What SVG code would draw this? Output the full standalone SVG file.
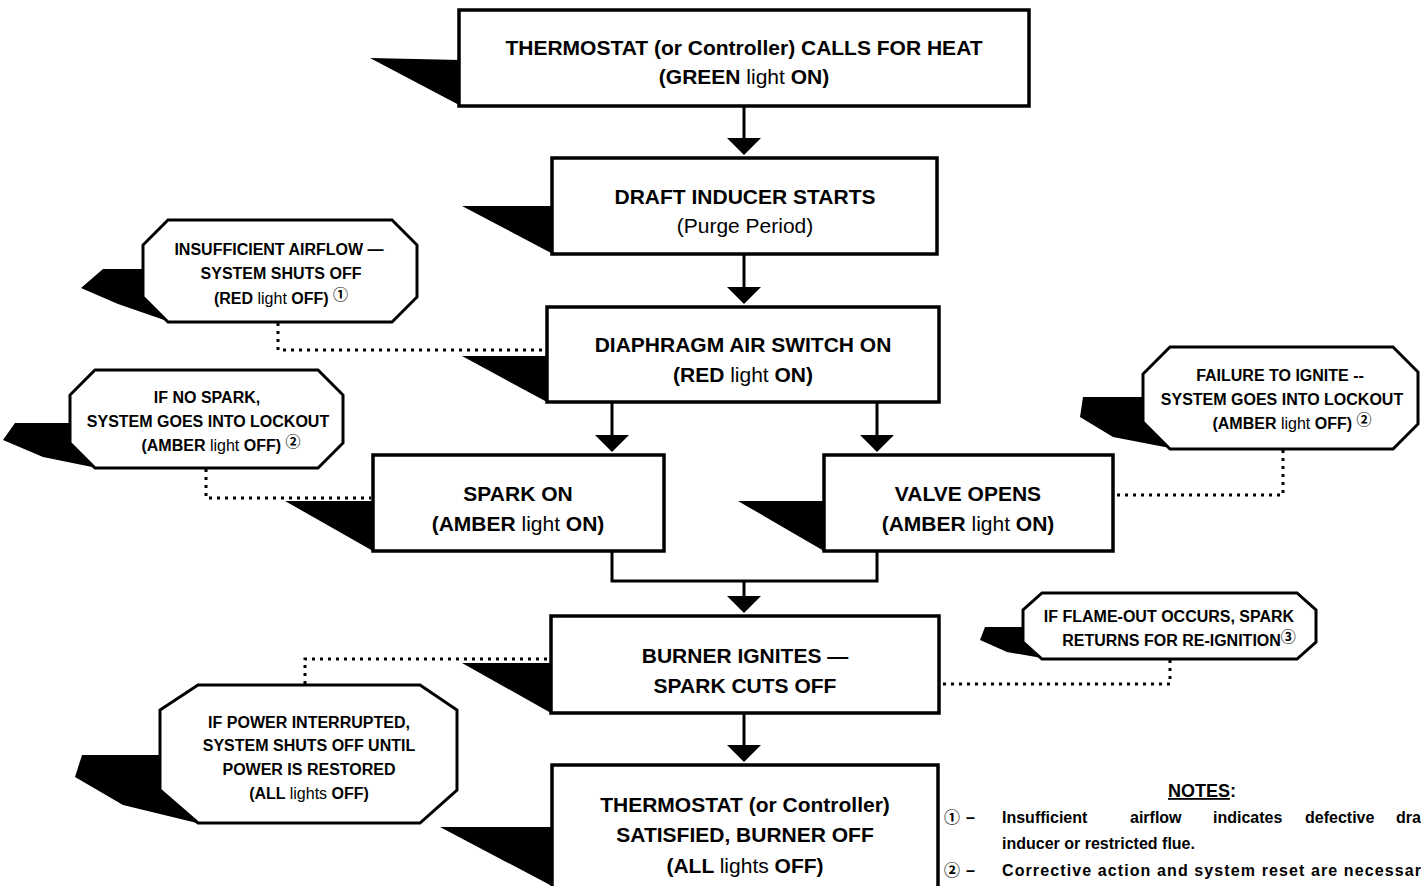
<svg xmlns="http://www.w3.org/2000/svg" width="1421" height="886" viewBox="0 0 1421 886">
<style>
.box{fill:#fff;stroke:#000;stroke-width:3.5}
.oct{fill:#fff;stroke:#000;stroke-width:3}
.sh{fill:#000;stroke:none}
.ln{fill:none;stroke:#000;stroke-width:3}
.dot{fill:none;stroke:#000;stroke-width:3;stroke-dasharray:3 5}
.ah{fill:#000}
text{font-family:"Liberation Sans","Noto Sans CJK JP",sans-serif;fill:#000;text-anchor:middle}
.t{font-size:21px;font-weight:bold}
.s{font-size:16px;font-weight:bold}
.n{font-weight:normal}
.c{font-size:15px;font-weight:bold}
.note{font-size:16px;font-weight:bold;text-anchor:start}
</style>
<g id="connectors">
<line class="ln" x1="744" y1="106" x2="744" y2="140"/>
<polygon class="ah" points="727,138 761,138 744,155"/>
<line class="ln" x1="744" y1="254" x2="744" y2="289"/>
<polygon class="ah" points="727,287 761,287 744,304"/>
<line class="ln" x1="612" y1="402" x2="612" y2="437"/>
<polygon class="ah" points="595,435 629,435 612,452"/>
<line class="ln" x1="877" y1="402" x2="877" y2="437"/>
<polygon class="ah" points="860,435 894,435 877,452"/>
<polyline class="ln" points="612,551 612,581 877,581 877,551"/>
<line class="ln" x1="744" y1="581" x2="744" y2="598"/>
<polygon class="ah" points="727,596 761,596 744,613"/>
<line class="ln" x1="744" y1="713" x2="744" y2="747"/>
<polygon class="ah" points="727,745 761,745 744,762"/>
<polyline class="dot" points="278,323 278,350 545,350"/>
<polyline class="dot" points="206,469 206,498 371,498"/>
<polyline class="dot" points="1283,450 1283,495 1115,495"/>
<polyline class="dot" points="1170,660 1170,684 941,684"/>
<polyline class="dot" points="305,684 305,659 549,659"/>
</g>
<g id="n1">
<polygon class="sh" points="370,58 461,60 461,106"/>
<rect class="box" x="459" y="10" width="570" height="96"/>
<text class="t" x="744" y="55">THERMOSTAT (or Controller) CALLS FOR HEAT</text>
<text class="t" x="744" y="84">(GREEN <tspan class="n">light</tspan> ON)</text>
</g>
<g id="n2">
<polygon class="sh" points="462,206 553,206 553,254"/>
<rect class="box" x="552" y="158" width="385" height="96"/>
<text class="t" x="745" y="204">DRAFT INDUCER STARTS</text>
<text class="t n" x="745" y="233">(Purge Period)</text>
</g>
<g id="n3">
<polygon class="sh" points="462,356 547,356 547,402"/>
<rect class="box" x="547" y="307" width="392" height="95"/>
<text class="t" x="743" y="352">DIAPHRAGM AIR SWITCH ON</text>
<text class="t" x="743" y="382">(RED <tspan class="n">light</tspan> ON)</text>
</g>
<g id="n4">
<polygon class="sh" points="285,501 373,501 373,551"/>
<rect class="box" x="373" y="455" width="291" height="96"/>
<text class="t" x="518" y="501">SPARK ON</text>
<text class="t" x="518" y="531">(AMBER <tspan class="n">light</tspan> ON)</text>
</g>
<g id="n5">
<polygon class="sh" points="738,501 824,501 824,551"/>
<rect class="box" x="824" y="455" width="289" height="96"/>
<text class="t" x="968" y="501">VALVE OPENS</text>
<text class="t" x="968" y="531">(AMBER <tspan class="n">light</tspan> ON)</text>
</g>
<g id="n6">
<polygon class="sh" points="462,663 551,663 551,713"/>
<rect class="box" x="551" y="616" width="388" height="97"/>
<text class="t" x="745" y="663">BURNER IGNITES —</text>
<text class="t" x="745" y="693">SPARK CUTS OFF</text>
</g>
<g id="n7">
<polygon class="sh" points="440,827 552,827 552,886"/>
<rect class="box" x="552" y="765" width="386" height="130"/>
<text class="t" x="745" y="812">THERMOSTAT (or Controller)</text>
<text class="t" x="745" y="842">SATISFIED, BURNER OFF</text>
<text class="t" x="745" y="873">(ALL <tspan class="n">lights</tspan> OFF)</text>
</g>
<g id="oA">
<polygon class="sh" points="103,269 143,269 143,296 170,322 118,304 81,288"/>
<polygon class="oct" points="168,220 392,220 417,245 417,297 392,322 168,322 143,297 143,245"/>
<text class="s" x="279" y="255">INSUFFICIENT AIRFLOW —</text>
<text class="s" x="281" y="279">SYSTEM SHUTS OFF</text>
<text class="s" x="281" y="304">(RED <tspan class="n">light</tspan> OFF) <tspan class="c" dy="-4">①</tspan></text>
</g>
<g id="oB">
<polygon class="sh" points="15,423 70,423 70,442 97,468 43,457 3,440"/>
<polygon class="oct" points="95,370 318,370 343,395 343,443 318,468 95,468 70,443 70,395"/>
<text class="s" x="207" y="403">IF NO SPARK,</text>
<text class="s" x="208" y="427">SYSTEM GOES INTO LOCKOUT</text>
<text class="s" x="221" y="451">(AMBER <tspan class="n">light</tspan> OFF) <tspan class="c" dy="-4">②</tspan></text>
</g>
<g id="oC">
<polygon class="sh" points="1083,397 1143,397 1143,421 1170,448 1113,437 1080,417"/>
<polygon class="oct" points="1170,347 1393,347 1418,372 1418,424 1393,449 1170,449 1143,422 1143,374"/>
<text class="s" x="1280" y="381">FAILURE TO IGNITE --</text>
<text class="s" x="1282" y="405">SYSTEM GOES INTO LOCKOUT</text>
<text class="s" x="1292" y="429">(AMBER <tspan class="n">light</tspan> OFF) <tspan class="c" dy="-4">②</tspan></text>
</g>
<g id="oD">
<polygon class="sh" points="985,627 1023,627 1023,643 1042,658 1007,652 980,640"/>
<polygon class="oct" points="1042,593 1297,593 1316,610 1316,642 1297,659 1042,659 1023,642 1023,610"/>
<text class="s" x="1169" y="622">IF FLAME-OUT OCCURS, SPARK</text>
<text class="s" x="1179" y="646">RETURNS FOR RE-IGNITION<tspan class="c" dy="-4">③</tspan></text>
</g>
<g id="oE">
<polygon class="sh" points="82,755 160,755 160,790 197,823 123,805 75,777"/>
<polygon class="oct" points="198,685 420,685 457,710 457,790 420,823 198,823 160,790 160,710"/>
<text class="s" x="309" y="728">IF POWER INTERRUPTED,</text>
<text class="s" x="309" y="751">SYSTEM SHUTS OFF UNTIL</text>
<text class="s" x="309" y="775">POWER IS RESTORED</text>
<text class="s" x="309" y="799">(ALL <tspan class="n">lights</tspan> OFF)</text>
</g>
<g id="notes">
<text x="1168" y="797" style="font-size:18px;font-weight:bold;text-anchor:start"><tspan text-decoration="underline">NOTES</tspan>:</text>
<text class="note" y="823"><tspan x="944">①</tspan><tspan x="966">–</tspan><tspan x="1002">Insufficient</tspan><tspan x="1130">airflow</tspan><tspan x="1213">indicates</tspan><tspan x="1305">defective</tspan><tspan x="1396">dra</tspan></text>
<text class="note" x="1002" y="849">inducer or restricted flue.</text>
<text class="note" y="876"><tspan x="944">②</tspan><tspan x="966">–</tspan><tspan x="1002" textLength="419" lengthAdjust="spacing">Corrective action and system reset are necessar</tspan></text>
</g>
</svg>
